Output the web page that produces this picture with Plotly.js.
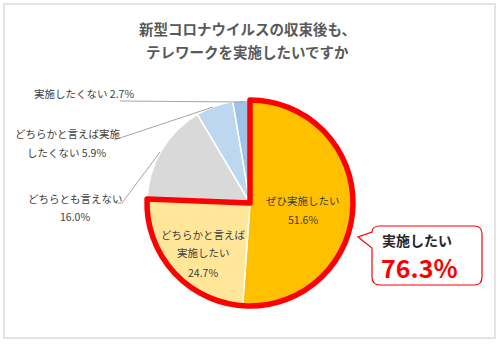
<!DOCTYPE html>
<html><head><meta charset="utf-8">
<script src="https://cdn.plot.ly/plotly-3.0.1.min.js"></script>
<style>body{margin:0;padding:0;background:#fff}#chart{width:500px;height:345px}</style>
</head><body><div id="chart"></div>
<script>
// ---- data ----
const labelLines = [['ぜひ実施したい'], ['どちらかと言えば', '実施したい'], ['どちらとも言えない'], ['どちらかと言えば実施', 'したくない'], ['実施したくない']];
const labels = labelLines.map(l => l.join(''));
const values = [51.6, 24.7, 16.0, 5.9, 2.7];
const colors = ['#FFC000', '#FFE699', '#D9D9D9', '#BDD7EE', '#9DC3E6'];
const titleLines = ['新型コロナウイルスの収束後も、', 'テレワークを実施したいですか'];
const calloutLabel = '実施したい';

// ---- helpers (pixel -> paper) ----
const W = 500, H = 345;
const X = p => p / W, Y = p => 1 - p / H;
const fontJP = '"Noto Sans CJK JP", "Noto Sans", sans-serif';

const cx = 250, cy = 203, R = 103;
const dom = {x: [X(cx - R), X(cx + R)], y: [Y(cy + R), Y(cy - R)]};

const pie = {
  type: 'pie', labels: labels, values: values, sort: false, direction: 'clockwise', rotation: 0,
  marker: {colors: colors, line: {color: '#ffffff', width: 1.5}},
  textinfo: 'none', hoverinfo: 'none', showlegend: false, domain: dom
};
const want = values[0] + values[1];
const rest = values.slice(2).reduce((a, b) => a + b, 0);
const outline = {
  type: 'pie', labels: ['a', 'b'], values: [want, rest], sort: false, direction: 'clockwise', rotation: 0,
  marker: {colors: ['rgba(0,0,0,0)', 'rgba(0,0,0,0)'], line: {color: ['#FF0000', 'rgba(0,0,0,0)'], width: [5.5, 0]}},
  textinfo: 'none', hoverinfo: 'none', showlegend: false, domain: dom
};

const anns = [];
function ann(text, x, y, size, color, opt) {
  anns.push(Object.assign({text: text, x: X(x), y: Y(y), xref: 'paper', yref: 'paper', showarrow: false,
    xanchor: 'center', yanchor: 'middle', borderpad: 0, font: {family: fontJP, size: size, color: color}}, opt || {}));
}
const pct = i => values[i].toFixed(1) + '%';
const tc = '#404040';
// title
ann('<b>' + titleLines[0] + '</b>', 247, 28, 14.5, '#595959');
ann('<b>' + titleLines[1] + '</b>', 247, 52, 14.5, '#595959');
// inside labels
ann(labelLines[0][0], 303, 200, 10.5, tc);
ann(pct(0), 303, 219, 10.5, tc);
ann(labelLines[1][0], 203, 234, 10.5, tc);
ann(labelLines[1][1], 203, 253, 10.5, tc);
ann(pct(1), 203, 272, 10.5, tc);
// outside labels
ann(labelLines[2][0], 75, 198, 10.5, tc);
ann(pct(2), 75, 216, 10.5, tc);
ann(labelLines[3][0], 68, 133, 10.5, tc);
ann(labelLines[3][1] + ' ' + pct(3), 66, 152, 10.5, tc);
ann(labelLines[4][0] + ' ' + pct(4), 84, 93, 10.5, tc);
// callout
ann('<b>' + calloutLabel + '</b>', 381, 240, 14, '#262626', {xanchor: 'left'});
ann('<b>' + want.toFixed(1) + '%</b>', 380, 267, 25, '#FF0000', {xanchor: 'left'});

function P(pts) { return pts.map((p, i) => (i ? 'L' : 'M') + X(p[0]) + ',' + Y(p[1])).join(' '); }
const lc = '#A6A6A6';
const shapes = [
  {type: 'rect', xref: 'paper', yref: 'paper', x0: X(4), x1: X(495), y0: Y(338), y1: Y(4), line: {color: '#E3E3E3', width: 2}},
  {type: 'path', xref: 'paper', yref: 'paper', path: P([[120, 101], [243, 102]]), line: {color: lc, width: 1}},
  {type: 'path', xref: 'paper', yref: 'paper', path: P([[114, 140], [213, 107]]), line: {color: lc, width: 1}},
  {type: 'path', xref: 'paper', yref: 'paper', path: P([[116, 203], [122, 203], [160, 152]]), line: {color: lc, width: 1}},
  {type: 'path', xref: 'paper', yref: 'paper', fillcolor: '#ffffff', line: {color: '#FF0000', width: 1.2},
   path: 'M' + X(380) + ',' + Y(226) + ' L' + X(474) + ',' + Y(226) + ' Q' + X(482) + ',' + Y(226) + ' ' + X(482) + ',' + Y(234) +
     ' L' + X(482) + ',' + Y(277) + ' Q' + X(482) + ',' + Y(285) + ' ' + X(474) + ',' + Y(285) +
     ' L' + X(380) + ',' + Y(285) + ' Q' + X(372) + ',' + Y(285) + ' ' + X(372) + ',' + Y(277) +
     ' L' + X(372) + ',' + Y(248) + ' L' + X(358) + ',' + Y(237) + ' L' + X(372) + ',' + Y(232) +
     ' Q' + X(372) + ',' + Y(226) + ' ' + X(380) + ',' + Y(226) + ' Z'}
];

Plotly.newPlot('chart', [pie, outline], {
  width: W, height: H, margin: {l: 0, r: 0, t: 0, b: 0},
  paper_bgcolor: '#ffffff', plot_bgcolor: '#ffffff', showlegend: false,
  annotations: anns, shapes: shapes
}, {staticPlot: true});
</script></body></html>
